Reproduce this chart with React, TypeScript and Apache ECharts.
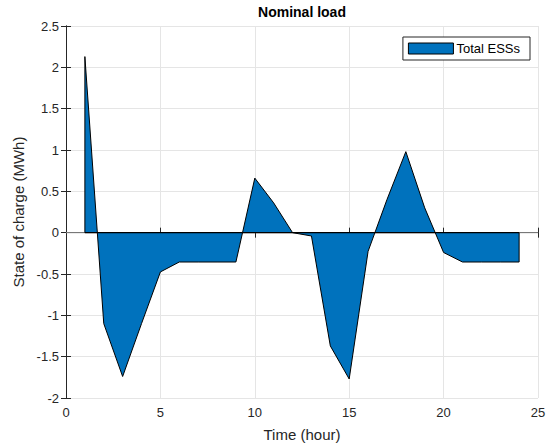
import React, { useEffect, useRef } from "react";
import * as echarts from "echarts";

const hours = [1, 2, 3, 4, 5, 6, 7, 8, 9, 10, 11, 12, 13, 14, 15, 16, 17, 18, 19, 20, 21, 22, 23, 24];
const soc = [2.13, -1.1, -1.74, -1.1, -0.475, -0.355, -0.355, -0.355, -0.355, 0.66, 0.36, 0.0, -0.04, -1.37, -1.77, -0.226, 0.4, 0.98, 0.3, -0.24, -0.355, -0.355, -0.355, -0.355];
const seriesName = "Total ESSs";
const titleText = "Nominal load";
const xName = "Time (hour)";
const yName = "State of charge (MWh)";

const FONT = "'Liberation Sans', Arial, Helvetica, sans-serif";
const AX = "#262626";
const GRID = "#e5e5e5";
const FILL = "#0072BD";

export default function App() {
  const ref = useRef<HTMLDivElement>(null);
  useEffect(() => {
    if (!ref.current) return;
    const chart = echarts.init(ref.current, null, { renderer: "svg" });
    const pts: [number, number][] = [[hours[0], 0]];
    hours.forEach((h, i) => pts.push([h, soc[i]]));
    pts.push([hours[hours.length - 1], 0]);
    const left = 66, right = 15, top = 26, bottom = 49;
    const W = 553;
    const axisCommon = {
      axisLine: { show: true, lineStyle: { color: AX, width: 1 } },
      axisTick: { show: true, inside: true, length: 5, lineStyle: { color: AX } },
    };
    chart.setOption({
      animation: false,
      backgroundColor: "#fff",
      textStyle: { fontFamily: FONT },
      grid: { left, right, top, bottom, containLabel: false },
      graphic: [
        {
          type: "text",
          x: (left + (W - right)) / 2,
          y: 5,
          style: { text: titleText, textAlign: "center", font: `bold 14px ${FONT}`, fill: "#000" },
        },
      ],
      legend: {
        right: 23,
        top: 37,
        orient: "vertical",
        backgroundColor: "#fff",
        borderColor: AX,
        borderWidth: 1,
        borderRadius: 0,
        padding: [5, 10, 5, 5],
        itemWidth: 45,
        itemHeight: 11,
        itemGap: 4,
        textStyle: { fontFamily: FONT, fontSize: 13, color: "#000", padding: [0, 0, 0, -2] },
        data: [
          { name: seriesName, icon: "rect", itemStyle: { color: FILL, borderColor: "#000", borderWidth: 1 } },
        ],
      },
      xAxis: [
        {
          type: "value",
          min: 0,
          max: 25,
          interval: 5,
          position: "bottom",
          name: xName,
          nameLocation: "middle",
          nameGap: 29,
          nameTextStyle: { fontFamily: FONT, fontSize: 15, color: AX },
          axisLabel: { fontFamily: FONT, fontSize: 13, color: AX, margin: 8 },
          splitLine: { show: true, lineStyle: { color: GRID } },
          ...axisCommon,
        },
        {
          type: "value",
          min: 0,
          max: 25,
          interval: 5,
          position: "top",
          axisLabel: { show: false },
          splitLine: { show: false },
          ...axisCommon,
        },
      ],
      yAxis: [
        {
          type: "value",
          min: -2,
          max: 2.5,
          interval: 0.5,
          position: "left",
          name: yName,
          nameLocation: "middle",
          nameGap: 36,
          nameTextStyle: { fontFamily: FONT, fontSize: 15, color: AX },
          axisLabel: { fontFamily: FONT, fontSize: 13, color: AX, margin: 7 },
          splitLine: { show: true, lineStyle: { color: GRID } },
          ...axisCommon,
        },
        {
          type: "value",
          min: -2,
          max: 2.5,
          interval: 0.5,
          position: "right",
          axisLabel: { show: false },
          splitLine: { show: false },
          ...axisCommon,
        },
      ],
      series: [
        {
          type: "line",
          name: "baseline",
          data: [[0, 0], [25, 0]],
          symbol: "none",
          silent: true,
          lineStyle: { color: "#888", width: 1 },
          z: 1,
        },
        {
          type: "line",
          name: seriesName,
          data: pts,
          symbol: "none",
          lineStyle: { color: "#000", width: 1 },
          itemStyle: { color: FILL },
          areaStyle: { color: FILL, opacity: 1, origin: 0 },
          z: 2,
        },
        {
          type: "line",
          name: "base edge",
          data: [[hours[0], 0], [hours[hours.length - 1], 0]],
          symbol: "none",
          silent: true,
          lineStyle: { color: "#000", width: 1.2 },
          z: 3,
        },
      ],
    });
    return () => chart.dispose();
  }, []);
  return <div ref={ref} style={{ width: 553, height: 447, position: "absolute", left: 0, top: 0 }} />;
}
